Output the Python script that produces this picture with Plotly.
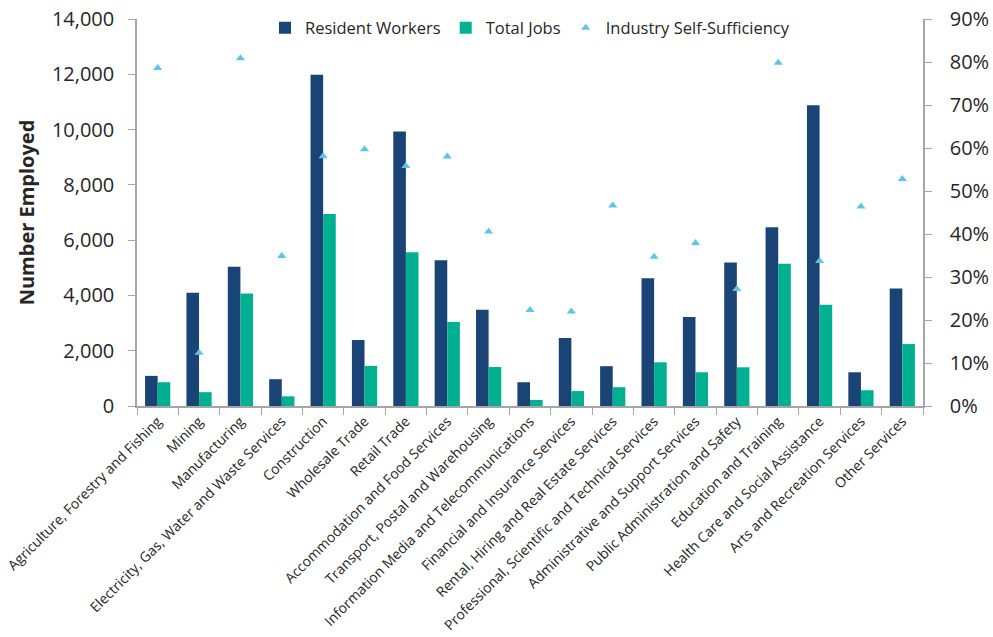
import plotly.graph_objects as go

industries = [
    "Agriculture, Forestry and Fishing", "Mining", "Manufacturing",
    "Electricity, Gas, Water and Waste Services", "Construction", "Wholesale Trade",
    "Retail Trade", "Accommodation and Food Services", "Transport, Postal and Warehousing",
    "Information Media and Telecommunications", "Financial and Insurance Services",
    "Rental, Hiring and Real Estate Services", "Professional, Scientific and Technical Services",
    "Administrative and Support Services", "Public Administration and Safety",
    "Education and Training", "Health Care and Social Assistance",
    "Arts and Recreation Services", "Other Services",
]
resident_workers = [1090, 4100, 5040, 970, 11980, 2390, 9930, 5270, 3480,
                    860, 2460, 1440, 4620, 3220, 5190, 6470, 10880, 1220, 4250]
total_jobs = [860, 500, 4070, 350, 6950, 1450, 5560, 3040, 1410,
              220, 540, 680, 1580, 1220, 1400, 5150, 3660, 570, 2240]
self_sufficiency = [0.786, 0.124, 0.809, 0.349, 0.581, 0.597, 0.558, 0.580, 0.406,
                    0.223, 0.220, 0.466, 0.347, 0.379, 0.272, 0.798, 0.337, 0.464, 0.528]

FONT = "Open Sans"
TEXT = "#262626"
AXIS = "#A6A6A6"

fig = go.Figure()
fig.add_trace(go.Bar(name="Resident Workers", x=industries, y=resident_workers,
                     marker=dict(color="#1B4476", line=dict(width=0))))
fig.add_trace(go.Bar(name="Total Jobs", x=industries, y=total_jobs,
                     marker=dict(color="#00B091", line=dict(width=0))))
fig.add_trace(go.Scatter(name="Industry Self-Sufficiency", x=industries, y=self_sufficiency,
                         mode="markers", yaxis="y2",
                         marker=dict(symbol="triangle-up", size=8, color="#5BC6E6")))

fig.update_layout(
    width=993, height=637,
    margin=dict(l=137, r=70, t=19, b=231, autoexpand=False),
    paper_bgcolor="white", plot_bgcolor="white",
    font=dict(family=FONT, color=TEXT),
    barmode="group", bargap=0.39, bargroupgap=0,
    showlegend=True,
    legend=dict(orientation="h", x=0.5, xanchor="center", y=1.022, yanchor="top",
                font=dict(size=16.5, color=TEXT), itemwidth=30,
                bgcolor="rgba(0,0,0,0)", traceorder="normal"),
    xaxis=dict(range=[-0.5, len(industries) - 0.5],
               showline=True, linecolor=AXIS, linewidth=1.5, automargin=False,
               ticks="outside", tickson="boundaries", ticklen=7, tickcolor=AXIS,
               tickangle=-45, tickfont=dict(size=14, color=TEXT),
               showgrid=False, zeroline=False),
    yaxis=dict(range=[0, 14000], dtick=2000, tickformat=",", automargin=False,
               showline=True, linecolor=AXIS, linewidth=1.5,
               ticks="outside", ticklen=7, tickcolor=AXIS, ticklabelstandoff=10,
               tickfont=dict(size=20, color=TEXT), showgrid=False, zeroline=False,
               title=dict(text="<b>Number Employed</b>", font=dict(size=20, color=TEXT),
                          standoff=12)),
    yaxis2=dict(range=[0, 0.9], dtick=0.1, tickformat=".0%", overlaying="y", side="right",
                automargin=False,
                showline=True, linecolor=AXIS, linewidth=1.5,
                ticks="outside", ticklen=7, tickcolor=AXIS, ticklabelstandoff=14,
                tickfont=dict(size=20, color=TEXT), showgrid=False, zeroline=False),
)

fig.write_html("out.html")
